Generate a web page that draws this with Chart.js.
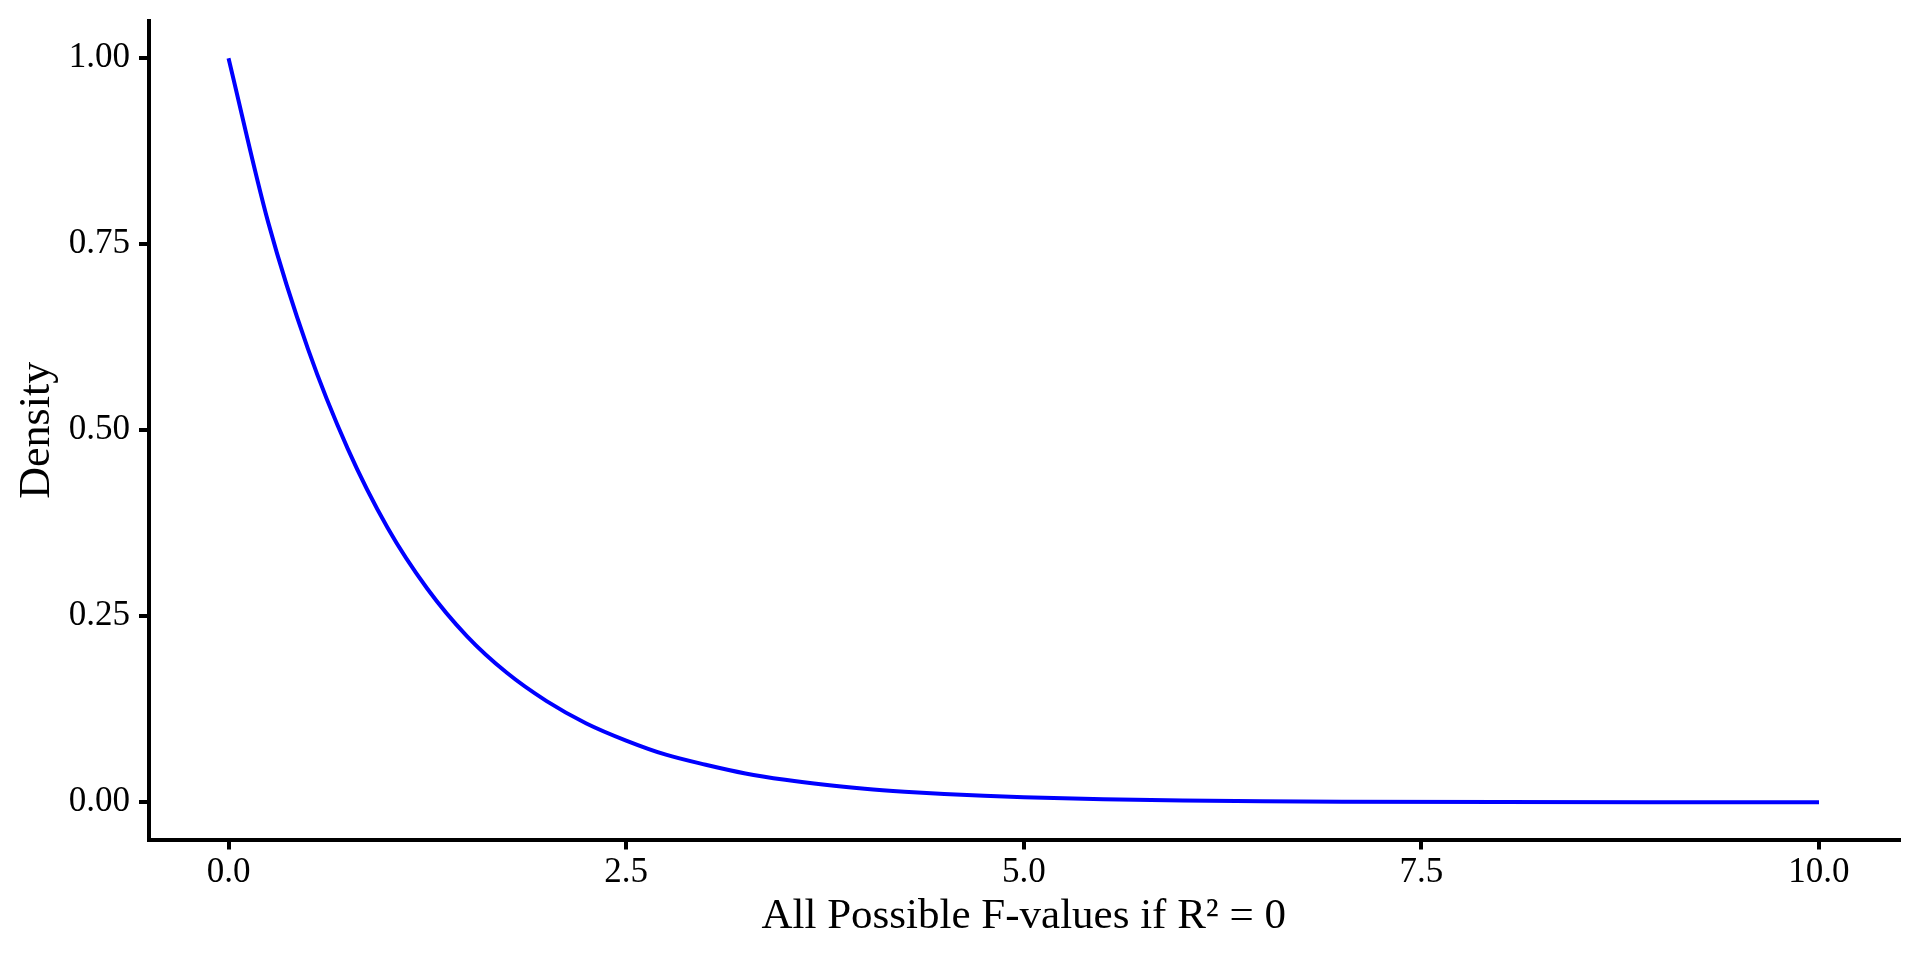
<!DOCTYPE html>
<html>
<head>
<meta charset="utf-8">
<script src="https://cdn.jsdelivr.net/npm/chart.js@4.4.0/dist/chart.umd.min.js"></script>
<style>
  body { margin: 0; background: #fff; }
  canvas { display: block; }
</style>
</head>
<body>
<canvas id="myChart" width="1920" height="960"></canvas>
<script>
// values
const fValues = [0, 0.25, 0.5, 0.75, 1, 1.25, 1.5, 1.75, 2, 2.25, 2.5, 2.75, 3, 3.25, 3.5, 3.75, 4, 4.25, 4.5, 4.75, 5, 5.5, 6, 6.5, 7, 8, 9, 10];
const density = [1.000, 0.779, 0.609, 0.475, 0.369, 0.287, 0.223, 0.174, 0.136, 0.106, 0.083, 0.064, 0.0505, 0.0388, 0.0302, 0.0235, 0.0183, 0.0143, 0.0111, 0.0087, 0.0067, 0.0041, 0.0025, 0.0015, 0.0009, 0.00034, 0.00012, 0.00005];

const xTicks = [0, 2.5, 5, 7.5, 10];
const yTicks = [0, 0.25, 0.5, 0.75, 1];

const xTitle = 'All Possible F-values if R² = 0';
const yTitle = 'Density';

const serif = '"Liberation Serif", "Times New Roman", serif';

const points = fValues.map((x, i) => ({ x: x, y: density[i] }));

const ctx = document.getElementById('myChart').getContext('2d');
const myChart = new Chart(ctx, {
    type: 'line',
    data: {
        datasets: [{
            data: points,
            borderColor: '#0000ff',
            borderWidth: 4,
            pointRadius: 0,
            fill: false,
            cubicInterpolationMode: 'monotone'
        }]
    },
    options: {
        responsive: false,
        animation: false,
        devicePixelRatio: 1,
        layout: { padding: { top: 21, right: 21.5, left: 0, bottom: 0 } },
        plugins: {
            legend: { display: false },
            tooltip: { enabled: false }
        },
        scales: {
            x: {
                type: 'linear',
                min: -0.5,
                max: 10.5,
                afterBuildTicks: (axis) => { axis.ticks = xTicks.map(v => ({ value: v })); },
                afterFit: (axis) => { axis.height = 120.5; },
                grid: { drawOnChartArea: false, drawTicks: true, tickLength: 10, color: '#000', lineWidth: 4 },
                border: { display: true, color: '#000', width: 4 },
                ticks: {
                    color: '#000',
                    padding: 2,
                    maxRotation: 0,
                    font: { family: serif, size: 35 },
                    callback: (v) => Number(v).toFixed(1)
                },
                title: {
                    display: true,
                    text: xTitle,
                    color: '#000',
                    font: { family: serif, size: 43 },
                    padding: { top: 0, bottom: 17 }
                }
            },
            y: {
                type: 'linear',
                min: -0.05,
                max: 1.05,
                afterBuildTicks: (axis) => { axis.ticks = yTicks.map(v => ({ value: v })); },
                afterFit: (axis) => { axis.width = 149; },
                grid: { drawOnChartArea: false, drawTicks: true, tickLength: 10, color: '#000', lineWidth: 4 },
                border: { display: true, color: '#000', width: 4 },
                ticks: {
                    color: '#000',
                    padding: 9,
                    font: { family: serif, size: 35, lineHeight: 0.5 },
                    callback: (v) => Number(v).toFixed(2)
                },
                title: {
                    display: true,
                    text: yTitle,
                    color: '#000',
                    font: { family: serif, size: 44 },
                    padding: { top: 11, bottom: 0 }
                }
            }
        }
    }
});
</script>
</body>
</html>
